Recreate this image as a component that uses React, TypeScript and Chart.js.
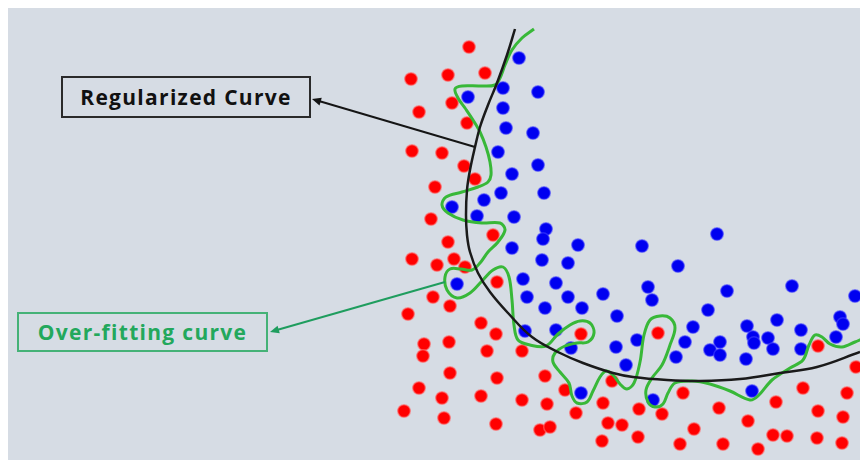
import React, { useEffect, useRef } from 'react';
import { Chart, registerables } from 'chart.js';

Chart.register(...registerables);

// Feature-space extents (x1 horizontal, x2 vertical)
const X_MIN = 0;
const X_MAX = 85.2;
const Y_MIN = 0;
const Y_MAX = 45.2;

// Class A samples (red)
const redClass: [number, number][] = [
  [46.1, 41.3], [40.3, 38.1], [44.0, 38.5], [47.7, 38.7], [44.4, 35.7], [41.1, 34.8],
  [45.9, 33.7], [40.4, 30.9], [43.4, 30.7], [45.6, 29.4], [46.7, 28.1], [42.7, 27.3],
  [42.3, 24.1], [48.5, 22.5], [44.0, 21.8], [40.4, 20.1], [42.9, 19.5], [44.6, 20.1],
  [45.7, 19.3], [48.9, 17.8], [42.5, 16.3], [44.2, 15.4], [40.0, 14.6], [47.3, 13.7],
  [48.8, 12.6], [41.6, 11.6], [41.5, 10.4], [44.1, 11.8], [47.9, 10.9], [51.4, 10.9],
  [57.3, 12.6], [65.0, 12.7], [44.2, 8.7], [48.9, 8.2], [53.7, 8.4], [41.1, 7.2],
  [43.4, 6.2], [47.3, 6.4], [51.4, 6.0], [53.9, 5.6], [55.7, 7.0], [39.6, 4.9],
  [43.6, 4.2], [48.8, 3.6], [53.2, 3.0], [54.2, 3.3], [56.8, 4.7], [59.5, 5.7],
  [60.4, 7.9], [60.0, 3.7], [61.4, 3.5], [59.4, 1.9], [63.0, 2.3], [63.1, 5.1],
  [65.4, 4.6], [67.5, 6.7], [68.6, 3.1], [67.2, 1.6], [71.1, 5.2], [74.0, 3.9],
  [71.5, 1.6], [75.0, 1.1], [76.5, 2.5], [77.9, 2.4], [76.8, 5.8], [79.5, 7.2],
  [81.0, 4.9], [80.9, 2.2], [83.4, 1.7], [83.5, 4.3], [83.9, 6.7], [84.8, 9.3],
  [81.0, 11.4],
];

// Class B samples (blue)
const blueClass: [number, number][] = [
  [51.1, 40.2], [49.5, 37.2], [53.0, 36.8], [46.0, 36.3], [49.5, 35.2], [49.8, 33.2],
  [52.5, 32.7], [49.0, 30.8], [53.0, 29.5], [50.4, 28.6], [49.3, 26.7], [53.6, 26.7],
  [47.6, 26.0], [44.4, 25.3], [46.9, 24.4], [50.6, 24.3], [53.8, 23.1], [53.5, 22.1],
  [50.4, 21.2], [53.4, 20.0], [51.5, 18.1], [44.9, 17.6], [54.8, 17.7], [51.9, 16.3],
  [53.7, 15.2], [51.7, 12.9], [54.8, 13.0], [57.0, 21.5], [56.0, 19.7], [56.0, 16.3],
  [57.4, 15.2], [59.5, 16.6], [60.9, 14.4], [56.3, 11.2], [60.8, 11.3], [57.3, 6.7],
  [63.4, 21.4], [67.0, 19.4], [64.0, 17.3], [64.4, 16.0], [70.0, 15.0], [68.5, 13.3],
  [62.9, 12.0], [67.7, 11.8], [66.8, 10.3], [61.8, 9.5], [70.9, 22.6], [71.9, 16.9],
  [78.4, 17.4], [84.7, 16.4], [73.9, 13.4], [76.9, 14.0], [79.3, 13.0], [83.2, 14.3],
  [83.5, 13.6], [71.2, 11.8], [70.2, 11.0], [71.2, 10.5], [74.5, 12.3], [74.6, 11.7],
  [76.0, 12.2], [76.5, 11.1], [73.8, 10.1], [79.3, 11.1], [82.8, 12.3], [74.4, 6.9],
  [64.5, 6.0],
];

// Smooth (regularized) decision boundary
const regularizedBoundary: [number, number][] = [
  [50.7, 43.1], [49.9, 40.5], [48.9, 37.7], [48.0, 35.5], [47.2, 33.3], [46.7, 31.3],
  [46.2, 29.0], [45.9, 27.0], [45.8, 24.5], [45.9, 22.5], [46.2, 20.8], [47.0, 18.7],
  [48.2, 16.8], [50.0, 14.7], [52.4, 12.3], [55.2, 10.7], [57.5, 9.7], [60.5, 8.7],
  [62.5, 8.3], [65.9, 8.0], [69.2, 7.9], [73.2, 8.1], [77.2, 8.7], [80.9, 9.3],
  [85.2, 10.8],
];

// Over-fitted decision boundary that snakes around individual samples
const overfitBoundary: [number, number][] = [
  [52.6, 43.1], [51.4, 42.2], [50.4, 41.0], [49.7, 39.5], [49.2, 38.2], [48.7, 37.5],
  [47.2, 37.4], [45.4, 37.4], [44.7, 37.1], [45.0, 36.2], [45.7, 35.2], [46.5, 34.0],
  [47.2, 32.8], [47.8, 31.3], [48.2, 29.8], [48.3, 28.5], [48.0, 27.8], [47.0, 27.3],
  [45.4, 26.8], [43.8, 26.3], [43.4, 25.5], [44.0, 24.7], [45.5, 24.0], [47.4, 23.7],
  [49.2, 23.7], [49.7, 23.0], [49.0, 21.8], [48.0, 20.8], [47.2, 19.7], [46.4, 19.0],
  [45.3, 19.1], [44.2, 19.1], [43.7, 18.3], [43.9, 17.0], [44.9, 16.2], [46.2, 16.7],
  [47.4, 17.9], [48.5, 19.0], [49.5, 19.3], [50.1, 18.3], [50.4, 16.0], [50.6, 13.5],
  [51.0, 12.0], [52.2, 11.5], [53.8, 11.4], [55.0, 12.6], [56.2, 13.5], [57.2, 13.9],
  [58.2, 13.7], [58.6, 12.7], [58.0, 11.8], [56.9, 11.7], [55.7, 11.4], [54.7, 10.7],
  [54.5, 9.8], [55.2, 8.8], [56.1, 7.7], [56.4, 6.4], [56.9, 5.7], [57.9, 5.8],
  [58.5, 6.9], [59.2, 8.3], [59.8, 8.9], [60.5, 8.5], [61.2, 7.6], [61.9, 7.1],
  [62.6, 7.7], [63.2, 9.8], [63.6, 12.5], [64.2, 14.0], [65.2, 14.4], [66.2, 14.2],
  [66.7, 13.2], [66.2, 11.5], [65.4, 9.5], [64.4, 8.2], [63.8, 7.0], [64.0, 5.8],
  [64.7, 5.3], [65.5, 5.6], [66.0, 6.7], [66.7, 7.7], [68.4, 7.9], [70.2, 7.6],
  [72.2, 6.9], [74.2, 6.0], [75.0, 6.4], [76.4, 8.0], [78.2, 9.2], [79.5, 10.0],
  [80.1, 11.5], [80.7, 12.5], [81.4, 12.3], [82.2, 11.6], [83.4, 11.3], [84.7, 11.8],
  [85.4, 12.1],
];

// Callout labels and the points their arrows connect (tail on curve, head at label)
const calloutLabels = ['Regularized Curve', 'Over-fitting curve'];
const calloutTails: [number, number][] = [[46.7, 31.3], [43.7, 17.8]];
const calloutHeads: [number, number][] = [[30.4, 36.1], [26.2, 12.8]];
const calloutColors = ['#151515', '#1f9d5e'];

const BG = '#d6dce4';

const toXY = (pts: [number, number][]) => pts.map(([x, y]) => ({ x, y }));

const arrowPlugin = {
  id: 'calloutArrows',
  afterDatasetsDraw(chart: any) {
    const { ctx } = chart;
    const xs = chart.scales.x;
    const ys = chart.scales.y;
    calloutTails.forEach((tail, i) => {
      const head = calloutHeads[i];
      const x0 = xs.getPixelForValue(tail[0]);
      const y0 = ys.getPixelForValue(tail[1]);
      const x1 = xs.getPixelForValue(head[0]);
      const y1 = ys.getPixelForValue(head[1]);
      const ang = Math.atan2(y1 - y0, x1 - x0);
      const len = 9;
      const half = 4;
      ctx.save();
      ctx.strokeStyle = calloutColors[i];
      ctx.fillStyle = calloutColors[i];
      ctx.lineWidth = 2;
      ctx.beginPath();
      ctx.moveTo(x0, y0);
      ctx.lineTo(x1 - Math.cos(ang) * len * 0.8, y1 - Math.sin(ang) * len * 0.8);
      ctx.stroke();
      ctx.beginPath();
      ctx.moveTo(x1, y1);
      ctx.lineTo(
        x1 - Math.cos(ang) * len - Math.sin(ang) * half,
        y1 - Math.sin(ang) * len + Math.cos(ang) * half
      );
      ctx.lineTo(
        x1 - Math.cos(ang) * len + Math.sin(ang) * half,
        y1 - Math.sin(ang) * len - Math.cos(ang) * half
      );
      ctx.closePath();
      ctx.fill();
      ctx.restore();
    });
  },
};

export default function App() {
  const canvasRef = useRef<HTMLCanvasElement | null>(null);

  useEffect(() => {
    if (!canvasRef.current) return;
    const chart = new Chart(canvasRef.current, {
      type: 'scatter',
      data: {
        datasets: [
          {
            label: 'Regularized',
            data: toXY(regularizedBoundary),
            showLine: true,
            borderColor: '#1a1a1a',
            borderWidth: 2.5,
            pointRadius: 0,
            tension: 0.4,
            fill: false,
            order: 0,
          },
          {
            label: 'Over-fitting',
            data: toXY(overfitBoundary),
            showLine: true,
            borderColor: '#38b838',
            borderWidth: 3,
            pointRadius: 0,
            tension: 0.35,
            fill: false,
            order: 1,
          },
          {
            label: 'Class A',
            data: toXY(redClass),
            backgroundColor: '#ff0000',
            borderColor: 'rgba(255,110,110,0.6)',
            borderWidth: 1.5,
            pointRadius: 6.3,
            order: 2,
          },
          {
            label: 'Class B',
            data: toXY(blueClass),
            backgroundColor: '#0000f0',
            borderColor: 'rgba(70,70,255,0.55)',
            borderWidth: 1.5,
            pointRadius: 6.3,
            order: 2,
          },
        ],
      },
      options: {
        responsive: false,
        maintainAspectRatio: false,
        animation: false,
        layout: { padding: 0, autoPadding: false },
        scales: {
          x: { type: 'linear', min: X_MIN, max: X_MAX, display: false },
          y: { type: 'linear', min: Y_MIN, max: Y_MAX, display: false },
        },
        plugins: {
          legend: { display: false },
          tooltip: { enabled: false },
        },
      },
      plugins: [arrowPlugin],
    });
    return () => chart.destroy();
  }, []);

  const boxBase: React.CSSProperties = {
    position: 'absolute',
    boxSizing: 'border-box',
    display: 'flex',
    alignItems: 'center',
    justifyContent: 'center',
    fontFamily: '"Open Sans", sans-serif',
    fontWeight: 700,
    fontSize: 21,
    letterSpacing: 1.3,
    whiteSpace: 'nowrap',
    background: BG,
  };

  return (
    <div
      style={{
        position: 'fixed',
        left: 8,
        top: 8,
        width: 852,
        height: 452,
        background: BG,
      }}
    >
      <canvas ref={canvasRef} width={852} height={452} style={{ display: 'block' }} />
      <div
        style={{
          ...boxBase,
          left: 53,
          top: 68,
          width: 250,
          height: 42,
          border: '2px solid #2a2a2a',
          color: '#111111',
        }}
      >
        {calloutLabels[0]}
      </div>
      <div
        style={{
          ...boxBase,
          left: 9,
          top: 304,
          width: 251,
          height: 40,
          border: '2px solid #45b277',
          color: '#23a85c',
        }}
      >
        {calloutLabels[1]}
      </div>
    </div>
  );
}
